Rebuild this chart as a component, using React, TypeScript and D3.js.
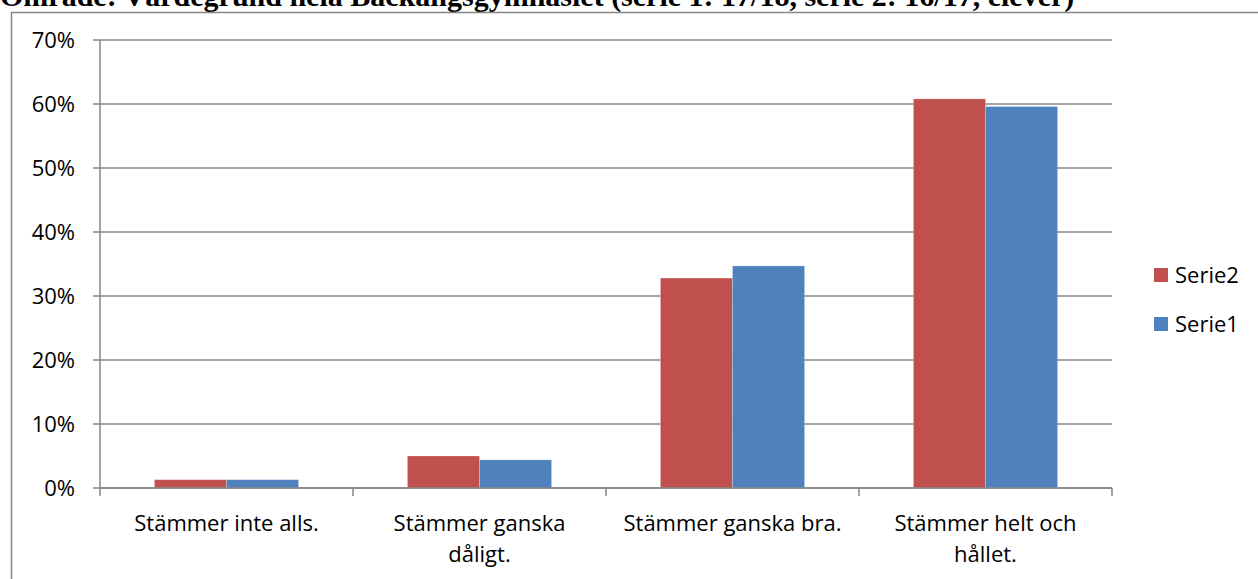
import * as d3 from "d3";
import { useEffect, useRef } from "react";

// data
const categories = [
  ["Stämmer inte alls."],
  ["Stämmer ganska", "dåligt."],
  ["Stämmer ganska bra."],
  ["Stämmer helt och", "hållet."],
];
const serie2 = [1.3, 5.0, 32.8, 60.8];
const serie1 = [1.3, 4.4, 34.7, 59.6];
const seriesNames = ["Serie2", "Serie1"];
const yTicks = [0, 10, 20, 30, 40, 50, 60, 70];

const TITLE =
  "Område: Värdegrund hela Bäckängsgymnasiet (serie 1: 17/18, serie 2: 16/17, elever)";

const WIDTH = 1258;
const HEIGHT = 579;
const COLORS = ["#C0504D", "#4F81BD"];
const GRID = "#868686";
const FONT = "'Open Sans', 'Liberation Sans', sans-serif";
const FS = 22;

const App = () => {
  const svgRef = useRef<SVGSVGElement>(null);

  useEffect(() => {
    document.body.style.margin = "0";
    const svg = d3.select(svgRef.current);
    svg.selectAll("*").remove();

    const plot = { left: 100, right: 1112, top: 40, bottom: 488 };

    // title, clipped at top of page like the reference
    svg
      .append("text")
      .attr("x", 0)
      .attr("y", 6)
      .attr("font-family", "'Liberation Serif', 'Times New Roman', serif")
      .attr("font-weight", "bold")
      .attr("font-size", 30)
      .text(TITLE);

    // chart frame
    svg
      .append("rect")
      .attr("x", 11.5)
      .attr("y", 12.5)
      .attr("width", WIDTH + 20)
      .attr("height", HEIGHT + 20)
      .attr("fill", "none")
      .attr("stroke", GRID)
      .attr("stroke-width", 1.5);

    const x = d3
      .scaleBand()
      .domain(categories.map((_, i) => String(i)))
      .range([plot.left, plot.right]);
    const inner = d3
      .scaleBand()
      .domain(seriesNames)
      .range([0, x.bandwidth()])
      .paddingOuter(0.755);
    const y = d3.scaleLinear().domain([0, 70]).range([plot.bottom, plot.top]);

    // gridlines + y labels
    const yAxis = svg.append("g");
    yTicks.forEach((t) => {
      yAxis
        .append("line")
        .attr("x1", plot.left - 7)
        .attr("x2", plot.right)
        .attr("y1", y(t))
        .attr("y2", y(t))
        .attr("stroke", GRID)
        .attr("stroke-width", 1.5);
      yAxis
        .append("text")
        .attr("x", 75)
        .attr("y", y(t))
        .attr("dy", "0.36em")
        .attr("text-anchor", "end")
        .attr("font-family", FONT)
        .attr("font-size", FS)
        .text(t + "%");
    });

    // y axis line
    svg
      .append("line")
      .attr("x1", plot.left)
      .attr("x2", plot.left)
      .attr("y1", plot.top)
      .attr("y2", plot.bottom)
      .attr("stroke", GRID)
      .attr("stroke-width", 1.5);

    // bars
    const series = [serie2, serie1];
    series.forEach((vals, s) => {
      vals.forEach((v, i) => {
        svg
          .append("rect")
          .attr("x", (x(String(i)) ?? 0) + (inner(seriesNames[s]) ?? 0))
          .attr("y", y(v))
          .attr("width", inner.bandwidth())
          .attr("height", y(0) - y(v))
          .attr("fill", COLORS[s])
          .attr("stroke", "#ffffff")
          .attr("stroke-opacity", 0.3)
          .attr("stroke-width", 0.75);
      });
    });

    // x axis + ticks
    svg
      .append("line")
      .attr("x1", plot.left)
      .attr("x2", plot.right)
      .attr("y1", plot.bottom)
      .attr("y2", plot.bottom)
      .attr("stroke", GRID)
      .attr("stroke-width", 1.5);
    const bounds = categories.map((_, i) => x(String(i)) ?? 0).concat([plot.right]);
    bounds.forEach((b) => {
      svg
        .append("line")
        .attr("x1", b)
        .attr("x2", b)
        .attr("y1", plot.bottom)
        .attr("y2", plot.bottom + 8)
        .attr("stroke", GRID)
        .attr("stroke-width", 1.5);
    });

    // category labels
    categories.forEach((lines, i) => {
      const cx = (x(String(i)) ?? 0) + x.bandwidth() / 2;
      lines.forEach((ln, j) => {
        svg
          .append("text")
          .attr("x", cx)
          .attr("y", 531 + j * 31)
          .attr("text-anchor", "middle")
          .attr("font-family", FONT)
          .attr("font-size", FS)
          .text(ln);
      });
    });

    // legend
    seriesNames.forEach((name, s) => {
      const ly = 275 + s * 49;
      svg
        .append("rect")
        .attr("x", 1154)
        .attr("y", ly - 7)
        .attr("width", 14)
        .attr("height", 14)
        .attr("fill", COLORS[s]);
      svg
        .append("text")
        .attr("x", 1175)
        .attr("y", ly)
        .attr("dy", "0.36em")
        .attr("font-family", FONT)
        .attr("font-size", FS)
        .text(name);
    });
  }, []);

  return (
    <svg
      ref={svgRef}
      width={WIDTH}
      height={HEIGHT}
      style={{ display: "block", background: "#fff" }}
    ></svg>
  );
};

export default App;
